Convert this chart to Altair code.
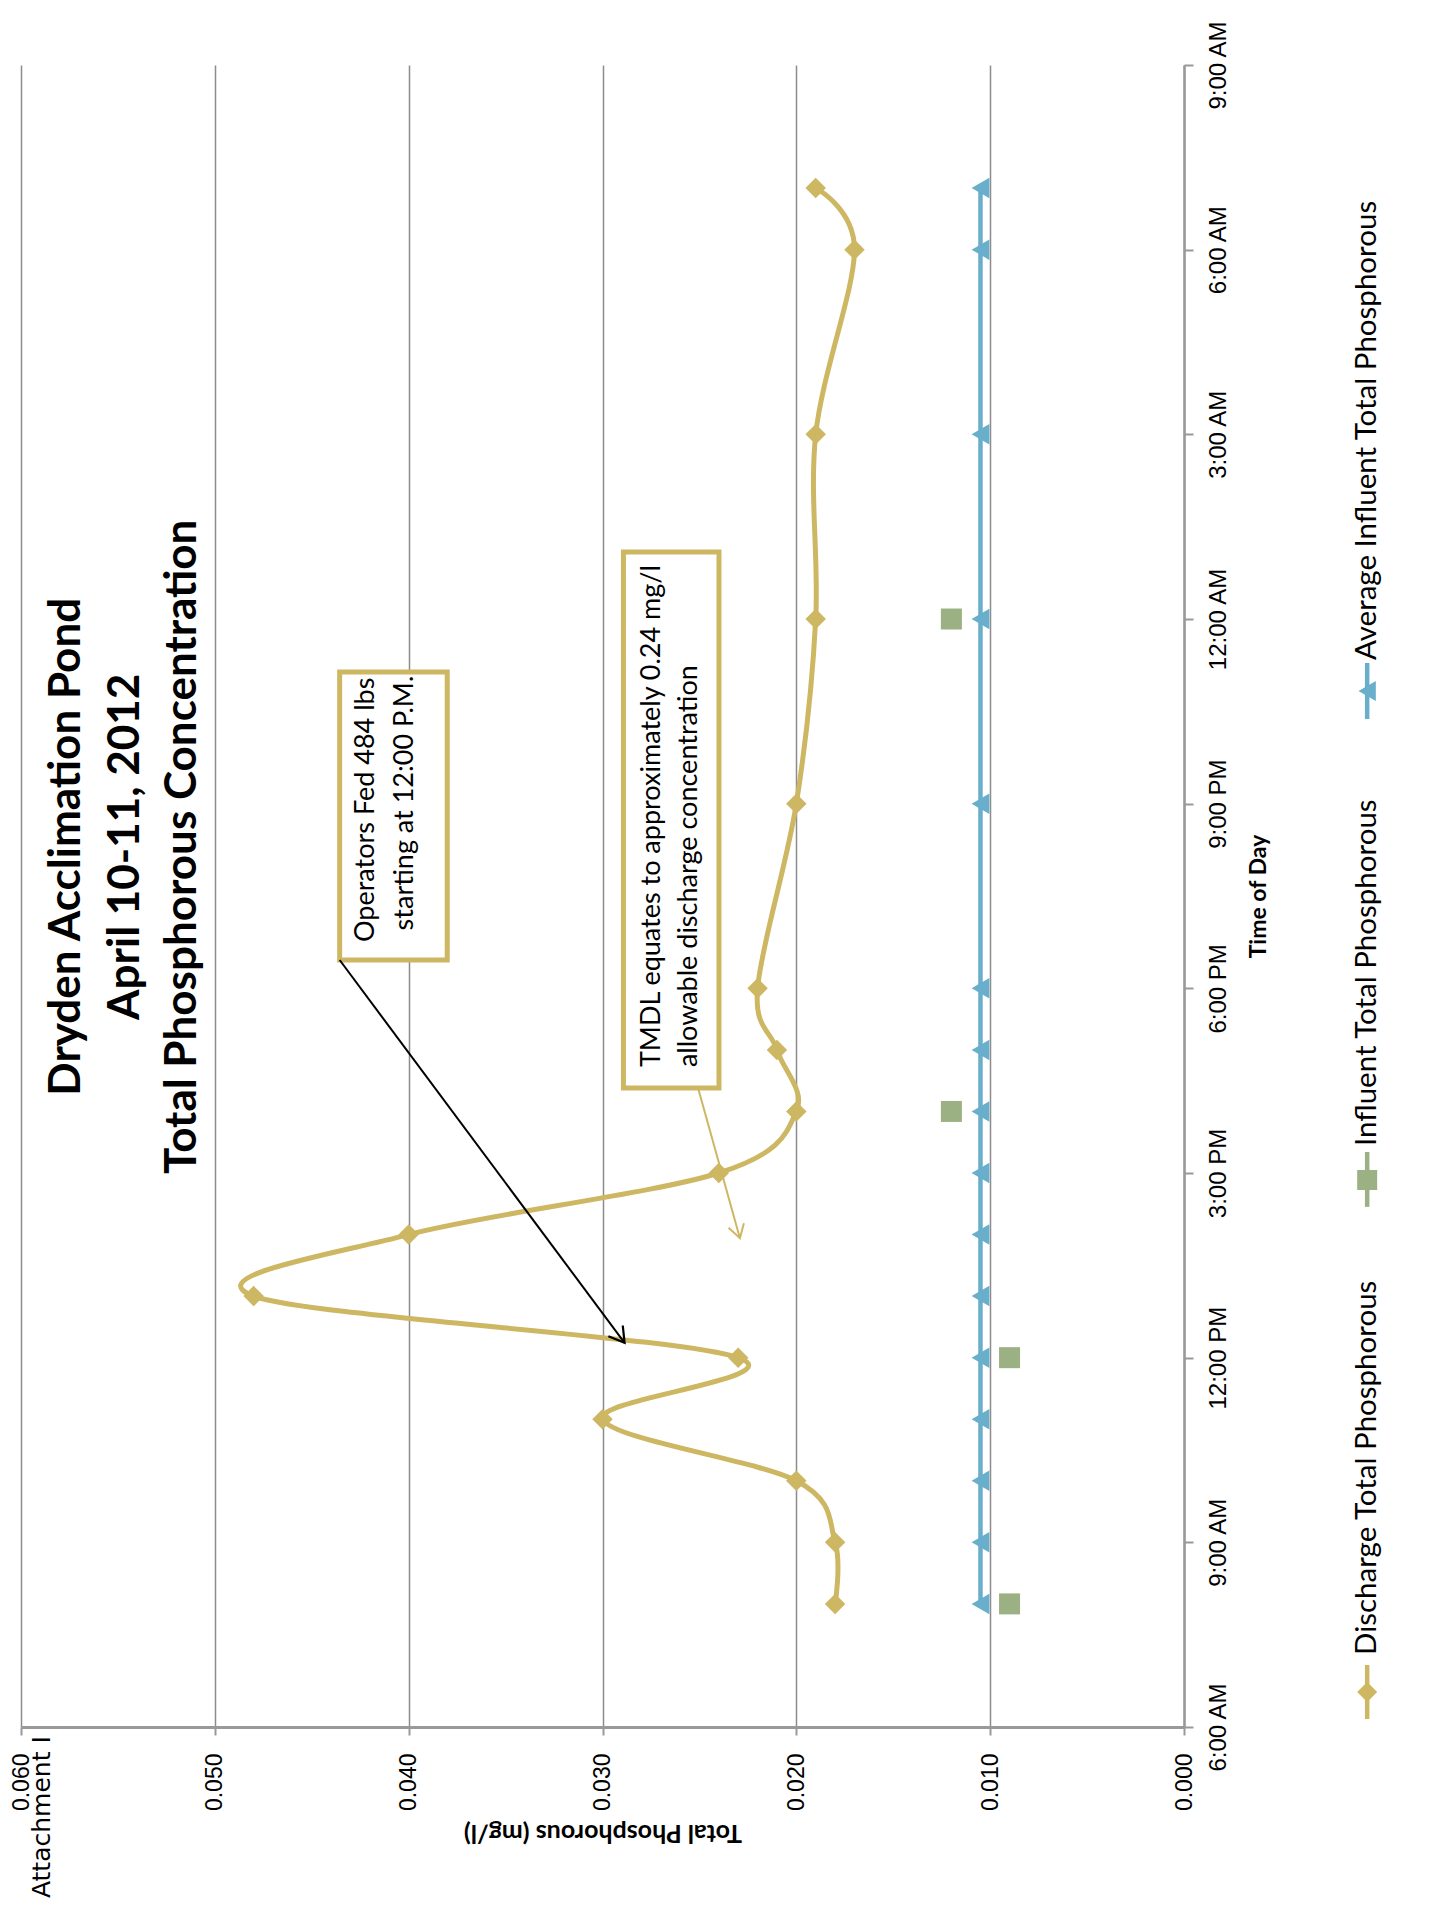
import json
import altair as alt
import pandas as pd

# ---------------- data ----------------
series_names = ["Discharge Total Phosphorous", "Influent Total Phosphorous",
                "Average Influent Total Phosphorous"]

sample_times = ["2012-04-10 08:00", "2012-04-10 09:00", "2012-04-10 10:00", "2012-04-10 11:00",
                "2012-04-10 12:00", "2012-04-10 13:00", "2012-04-10 14:00", "2012-04-10 15:00",
                "2012-04-10 16:00", "2012-04-10 17:00", "2012-04-10 18:00", "2012-04-10 21:00",
                "2012-04-11 00:00", "2012-04-11 03:00", "2012-04-11 06:00", "2012-04-11 07:00"]
discharge_tp = [0.018, 0.018, 0.020, 0.030, 0.023, 0.048, 0.040, 0.024,
                0.020, 0.021, 0.022, 0.020, 0.019, 0.019, 0.017, 0.019]
avg_influent_tp = [0.0105, 0.0105, 0.0105, 0.0105, 0.0105, 0.0105, 0.0105, 0.0105,
                   0.0105, 0.0105, 0.0105, 0.0105, 0.0105, 0.0105, 0.0105, 0.0105]

influent_times = ["2012-04-10 08:00", "2012-04-10 12:00", "2012-04-10 16:00", "2012-04-11 00:00"]
influent_tp = [0.009, 0.009, 0.012, 0.012]

value_ticks = [0.0, 0.01, 0.02, 0.03, 0.04, 0.05, 0.06]
time_tick_hours = [6, 9, 12, 15, 18, 21, 24, 27, 30, 33]
time_tick_labels = ["6:00 AM", "9:00 AM", "12:00 PM", "3:00 PM", "6:00 PM", "9:00 PM",
                    "12:00 AM", "3:00 AM", "6:00 AM", "9:00 AM"]

title_lines = ["Dryden Acclimation Pond", "April 10-11, 2012", "Total Phosphorous Concentration"]
note1_lines = ["Operators Fed 484 lbs", "starting at 12:00 P.M."]
note2_lines = ["TMDL equates to approximately 0.24 mg/l", "allowable discharge concentration"]
attachment_text = "Attachment I"

# ---------------- layout (in data units) ----------------
title_x = [0.05763, 0.0546, 0.05162]
title_h = 20.30
note1_box = dict(x1=0.04356, x2=0.03801, h1=23.14, h2=18.46)
note1_x = [0.04218, 0.04018]
note1_h = [20.90, 21.01]
note2_box = dict(x1=0.02892, x2=0.02399, h1=25.09, h2=16.38)
note2_x = [0.02745, 0.02556]
note2_h = 16.72
arrow1 = dict(x1=0.04356, h1=18.46, x2=0.02886, h2=12.24)
arrow2 = dict(x1=0.02507, h1=16.38, x2=0.02291, h2=13.94)
legend_x = -0.00945
legend_lo = [6.13, 14.45, 22.375]
legend_hi = [7.007, 15.341, 23.285]
legend_mid = [6.569, 14.886, 22.83]
legend_txt = [7.17, 15.439, 23.334]
attach_x = 0.05892
attach_h = 3.22

# ---------------- styles ----------------
gold = "#CDB762"
blue = "#69AECA"
green = "#9CB183"
grid_gray = "#8C8C8C"
axis_gray = "#999999"
base = pd.Timestamp("2012-04-10")


def to_hours(ts):
    return [(pd.Timestamp(t) - base).total_seconds() / 3600.0 for t in ts]


label_expr = json.dumps(time_tick_labels) + "[round((datum.value - 6) / 3)]"

X = alt.X("value:Q",
          scale=alt.Scale(domain=[0, 0.06], reverse=True, nice=False, zero=False),
          axis=alt.Axis(values=value_ticks, format=".3f", orient="bottom",
                        labelAngle=270, labelAlign="right", labelBaseline="middle",
                        labelFont="Liberation Sans", labelFontSize=23, labelColor="black",
                        labelPadding=18, labelFlush=False, labelOverlap=False,
                        tickSize=8, tickColor=axis_gray, tickWidth=2,
                        domainColor=axis_gray, domainWidth=3,
                        grid=True, gridColor=grid_gray, gridWidth=1.5,
                        title="Total Phosphorous (mg/l)", titleAngle=180,
                        titleBaseline="bottom", titleFont="Lato", titleFontWeight="bold",
                        titleFontSize=25, titleColor="black", titlePadding=9))
Y = alt.Y("hour:Q",
          scale=alt.Scale(domain=[6, 33], nice=False, zero=False),
          axis=alt.Axis(values=time_tick_hours, labelExpr=label_expr, orient="right",
                        labelAngle=270, labelAlign="center", labelBaseline="top",
                        labelFont="Liberation Sans", labelFontSize=24, labelColor="black",
                        labelPadding=13, labelFlush=False, labelOverlap=False,
                        tickSize=9, tickColor=axis_gray, tickWidth=2,
                        domainColor=axis_gray, domainWidth=2.5, grid=False,
                        title="Time of Day", titleAngle=270, titleBaseline="top",
                        titleFont="Lato", titleFontWeight="bold", titleFontSize=23,
                        titleColor="black", titlePadding=17))

disc_df = pd.DataFrame({"hour": to_hours(sample_times), "value": discharge_tp})
avg_df = pd.DataFrame({"hour": to_hours(sample_times), "value": avg_influent_tp})
inf_df = pd.DataFrame({"hour": to_hours(influent_times), "value": influent_tp})

disc_line = alt.Chart(disc_df).mark_line(
    interpolate="cardinal", tension=0, color=gold, strokeWidth=5,
    strokeCap="round", strokeJoin="round").encode(x=X, y=Y, order=alt.Order("hour:Q"))
disc_pts = alt.Chart(disc_df).mark_point(
    shape="diamond", filled=True, size=420, color=gold, opacity=1).encode(x=X, y=Y)
avg_line = alt.Chart(avg_df).mark_line(color=blue, strokeWidth=4.5).encode(
    x=X, y=Y, order=alt.Order("hour:Q"))
avg_pts = alt.Chart(avg_df).mark_point(
    shape="triangle-left", filled=True, size=420, color=blue, opacity=1).encode(x=X, y=Y)
inf_pts = alt.Chart(inf_df).mark_point(
    shape="square", filled=True, size=441, color=green, opacity=1).encode(x=X, y=Y)

# legend (drawn rotated, like the reference)
color_enc = alt.Color("name:N", scale=alt.Scale(domain=series_names, range=[gold, green, blue]),
                      legend=None)
shape_enc = alt.Shape("name:N", scale=alt.Scale(domain=series_names,
                                                range=["diamond", "square", "triangle-left"]),
                      legend=None)
leg_rule_df = pd.DataFrame({"name": series_names, "value": [legend_x] * 3,
                            "hour": legend_lo, "hour2": legend_hi})
leg_pt_df = pd.DataFrame({"name": series_names, "value": [legend_x] * 3, "hour": legend_mid})
leg_txt_df = pd.DataFrame({"name": series_names, "value": [legend_x] * 3, "hour": legend_txt})
leg_rules = alt.Chart(leg_rule_df).mark_rule(strokeWidth=4.5).encode(
    x=X, y=Y, y2="hour2:Q", color=color_enc)
leg_pts = alt.Chart(leg_pt_df).mark_point(filled=True, size=400, opacity=1).encode(
    x=X, y=Y, color=color_enc, shape=shape_enc)
leg_txt = alt.Chart(leg_txt_df).mark_text(
    angle=270, align="left", baseline="middle", font="Lato", fontSize=29.5, color="black").encode(
    x=X, y=Y, text="name:N")

# title
title_df = pd.DataFrame({"t": title_lines, "value": title_x, "hour": [title_h] * 3,
                         "k": [0, 1, 2]})
title_txt = alt.Chart(title_df).mark_text(
    angle=270, align="center", baseline="middle", font="Lato", fontWeight="bold",
    fontSize=44, color="black").encode(x=X, y=Y, text="t:N", detail="k:O")

# annotation boxes
box_df = pd.DataFrame({"value": [note1_box["x1"], note2_box["x1"]],
                       "value2": [note1_box["x2"], note2_box["x2"]],
                       "hour": [note1_box["h1"], note2_box["h1"]],
                       "hour2": [note1_box["h2"], note2_box["h2"]]})
boxes = alt.Chart(box_df).mark_rect(fill="white", stroke=gold, strokeWidth=5).encode(
    x=X, x2="value2:Q", y=Y, y2="hour2:Q")
n1_df = pd.DataFrame({"t": note1_lines, "value": note1_x, "hour": note1_h})
n1_txt = alt.Chart(n1_df).mark_text(
    angle=270, align="center", baseline="middle", font="Lato", fontSize=27, color="black").encode(
    x=X, y=Y, text="t:N")
n2_df = pd.DataFrame({"t": note2_lines, "value": note2_x, "hour": [note2_h] * 2})
n2_txt = alt.Chart(n2_df).mark_text(
    angle=270, align="left", baseline="middle", font="Lato", fontSize=27, color="black").encode(
    x=X, y=Y, text="t:N")

# arrows
a1_df = pd.DataFrame({"value": [arrow1["x1"]], "value2": [arrow1["x2"]],
                      "hour": [arrow1["h1"]], "hour2": [arrow1["h2"]]})
a2_df = pd.DataFrame({"value": [arrow2["x1"]], "value2": [arrow2["x2"]],
                      "hour": [arrow2["h1"]], "hour2": [arrow2["h2"]]})
a1_line = alt.Chart(a1_df).mark_rule(color="black", strokeWidth=2).encode(
    x=X, x2="value2:Q", y=Y, y2="hour2:Q")
a2_line = alt.Chart(a2_df).mark_rule(color=gold, strokeWidth=2).encode(
    x=X, x2="value2:Q", y=Y, y2="hour2:Q")
head_path = "M-1,-0.6L0,0L-1,0.6"
a1_tip = pd.DataFrame({"value": [arrow1["x2"]], "hour": [arrow1["h2"]]})
a2_tip = pd.DataFrame({"value": [arrow2["x2"]], "hour": [arrow2["h2"]]})
a1_head = alt.Chart(a1_tip).mark_point(shape=head_path, filled=False, size=900, angle=53,
                                       color="black", strokeWidth=2.2, opacity=1).encode(x=X, y=Y)
a2_head = alt.Chart(a2_tip).mark_point(shape=head_path, filled=False, size=700, angle=74,
                                       color=gold, strokeWidth=2, opacity=1).encode(x=X, y=Y)

# attachment label
att_df = pd.DataFrame({"t": [attachment_text], "value": [attach_x], "hour": [attach_h]})
att_txt = alt.Chart(att_df).mark_text(
    angle=270, align="left", baseline="middle", font="DejaVu Sans", fontSize=25,
    color="black").encode(x=X, y=Y, text="t:N")

chart = alt.layer(
    disc_line, avg_line, disc_pts, avg_pts, inf_pts,
    boxes, n1_txt, n2_txt, a1_line, a1_head, a2_line, a2_head,
    title_txt, leg_rules, leg_pts, leg_txt, att_txt
).properties(
    width=1163, height=1662,
    autosize=alt.AutoSizeParams(type="none"),
    padding={"left": 13, "top": 57, "right": 248, "bottom": 185},
    background="white",
).configure_view(stroke=None)

chart.save("out.html", embed_options={"renderer": "svg", "actions": False})
